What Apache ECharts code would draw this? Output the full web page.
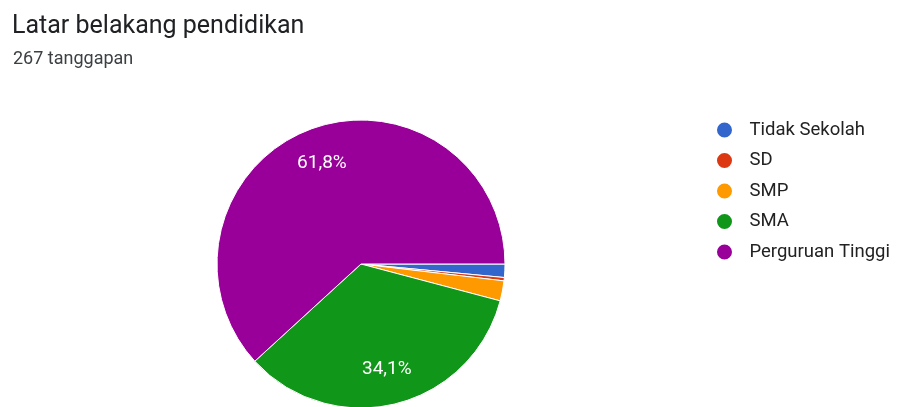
<!DOCTYPE html>
<html>
<head>
<meta charset="utf-8">
<script src="https://cdn.jsdelivr.net/npm/echarts@6/dist/echarts.min.js"></script>
<style>
  html, body { margin: 0; padding: 0; background: #fff; }
  #chart { width: 897px; height: 407px; }
</style>
</head>
<body>
<div id="chart"></div>
<script>
const categories = ['Tidak Sekolah', 'SD', 'SMP', 'SMA', 'Perguruan Tinggi']
const counts = [4, 1, 6, 91, 165]
const colors = ['#3366cc', '#dc3912', '#ff9900', '#109618', '#990099']

const chart = echarts.init(document.getElementById('chart'))
const pieData = categories.map((c, i) => ({ name: c, value: counts[i] }))

chart.setOption({
  color: colors,
  title: [
    { text: 'Latar belakang pendidikan', left: 7, top: 9,
      textStyle: { fontFamily: 'Roboto', fontSize: 25, fontWeight: 'normal', color: '#202124' } },
    { text: '267 tanggapan', left: 8, top: 45,
      textStyle: { fontFamily: 'Roboto', fontSize: 18, fontWeight: 'normal', color: '#3c4043' } }
  ],
  legend: {
    orient: 'vertical', left: 710, top: 115,
    icon: 'circle', itemWidth: 40, itemHeight: 17, itemGap: 10.5,
    textStyle: { fontFamily: 'Roboto', fontSize: 18.5, lineHeight: 20, color: '#222' },
    data: categories
  },
  series: [
    {
      type: 'pie', center: [361, 264], radius: 144, startAngle: 0, clockwise: true,
      silent: true, label: { show: false }, labelLine: { show: false },
      itemStyle: { borderColor: '#fff', borderWidth: 1 },
      data: pieData
    },
    {
      // transparent ring used only to place the percentage labels
      type: 'pie', center: [361, 264], radius: [66, 144], startAngle: 0, clockwise: true,
      silent: true, legendHoverLink: false,
      itemStyle: { color: 'transparent', borderWidth: 0 },
      labelLine: { show: false },
      label: {
        position: 'inside', color: '#fff', fontFamily: 'Roboto', fontSize: 19,
        formatter: p => p.percent > 5 ? p.percent.toFixed(1).replace('.', ',') + '%' : ''
      },
      data: categories.map((c, i) => ({ name: c + ' ', value: counts[i] }))
    }
  ]
})
</script>
</body>
</html>
